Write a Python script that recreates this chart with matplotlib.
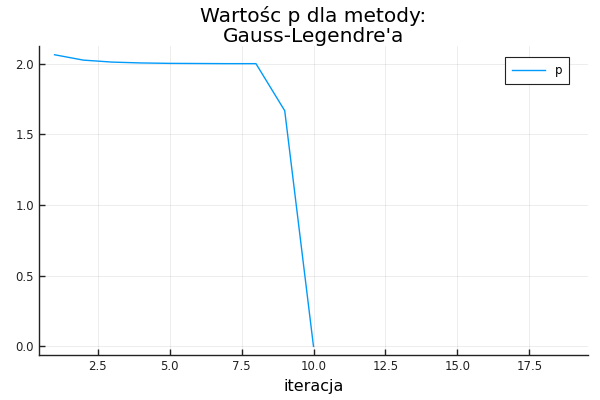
import numpy as np
import matplotlib
matplotlib.use("Agg")
import matplotlib.pyplot as plt

# iteracje 1..19, wartosci po 10 nie istnieja (NaN)
iteracja = list(range(1, 20))
p = [2.063, 2.025, 2.011, 2.005, 2.002, 2.001, 2.0, 2.0, 1.667, 0.0] + [np.nan] * 9

xticks = [2.5, 5.0, 7.5, 10.0, 12.5, 15.0, 17.5]
yticks = [0.0, 0.5, 1.0, 1.5, 2.0]


def main() -> None:
    fig = plt.figure(figsize=(6, 4), dpi=100)
    ax = fig.add_axes([0.065, 0.112, 0.915, 0.772])

    ax.plot(iteracja, p, color="#009AFA", lw=1.0, label="p")

    ax.set_xlim(0.46, 19.54)
    ax.set_ylim(-0.062, 2.122)
    ax.set_xticks(xticks)
    ax.set_yticks(yticks)
    ax.set_xticklabels([f"{t:.1f}" for t in xticks])
    ax.set_yticklabels([f"{t:.1f}" for t in yticks])
    ax.tick_params(direction="in", length=4, width=1, labelsize=8.5, colors="#222222")
    ax.grid(True, color="#000000", alpha=0.1, lw=0.5)

    for s in ["top", "right"]:
        ax.spines[s].set_visible(False)
    for s in ["left", "bottom"]:
        ax.spines[s].set_linewidth(1.0)
        ax.spines[s].set_color("#222222")

    ax.set_xlabel("iteracja", fontsize=11.5, labelpad=4)
    ax.set_title("Wartośc p dla metody:\nGauss-Legendre'a", fontsize=14.5, linespacing=1.08, pad=3)

    leg = ax.legend(loc="upper right", fontsize=8.5, fancybox=False, framealpha=1,
                    edgecolor="#222222", borderpad=0.6, handlelength=2.8,
                    bbox_to_anchor=(0.977, 0.985))
    leg.get_frame().set_linewidth(0.8)

    fig.savefig("out.png", dpi=100)


if __name__ == '__main__':
    main()
